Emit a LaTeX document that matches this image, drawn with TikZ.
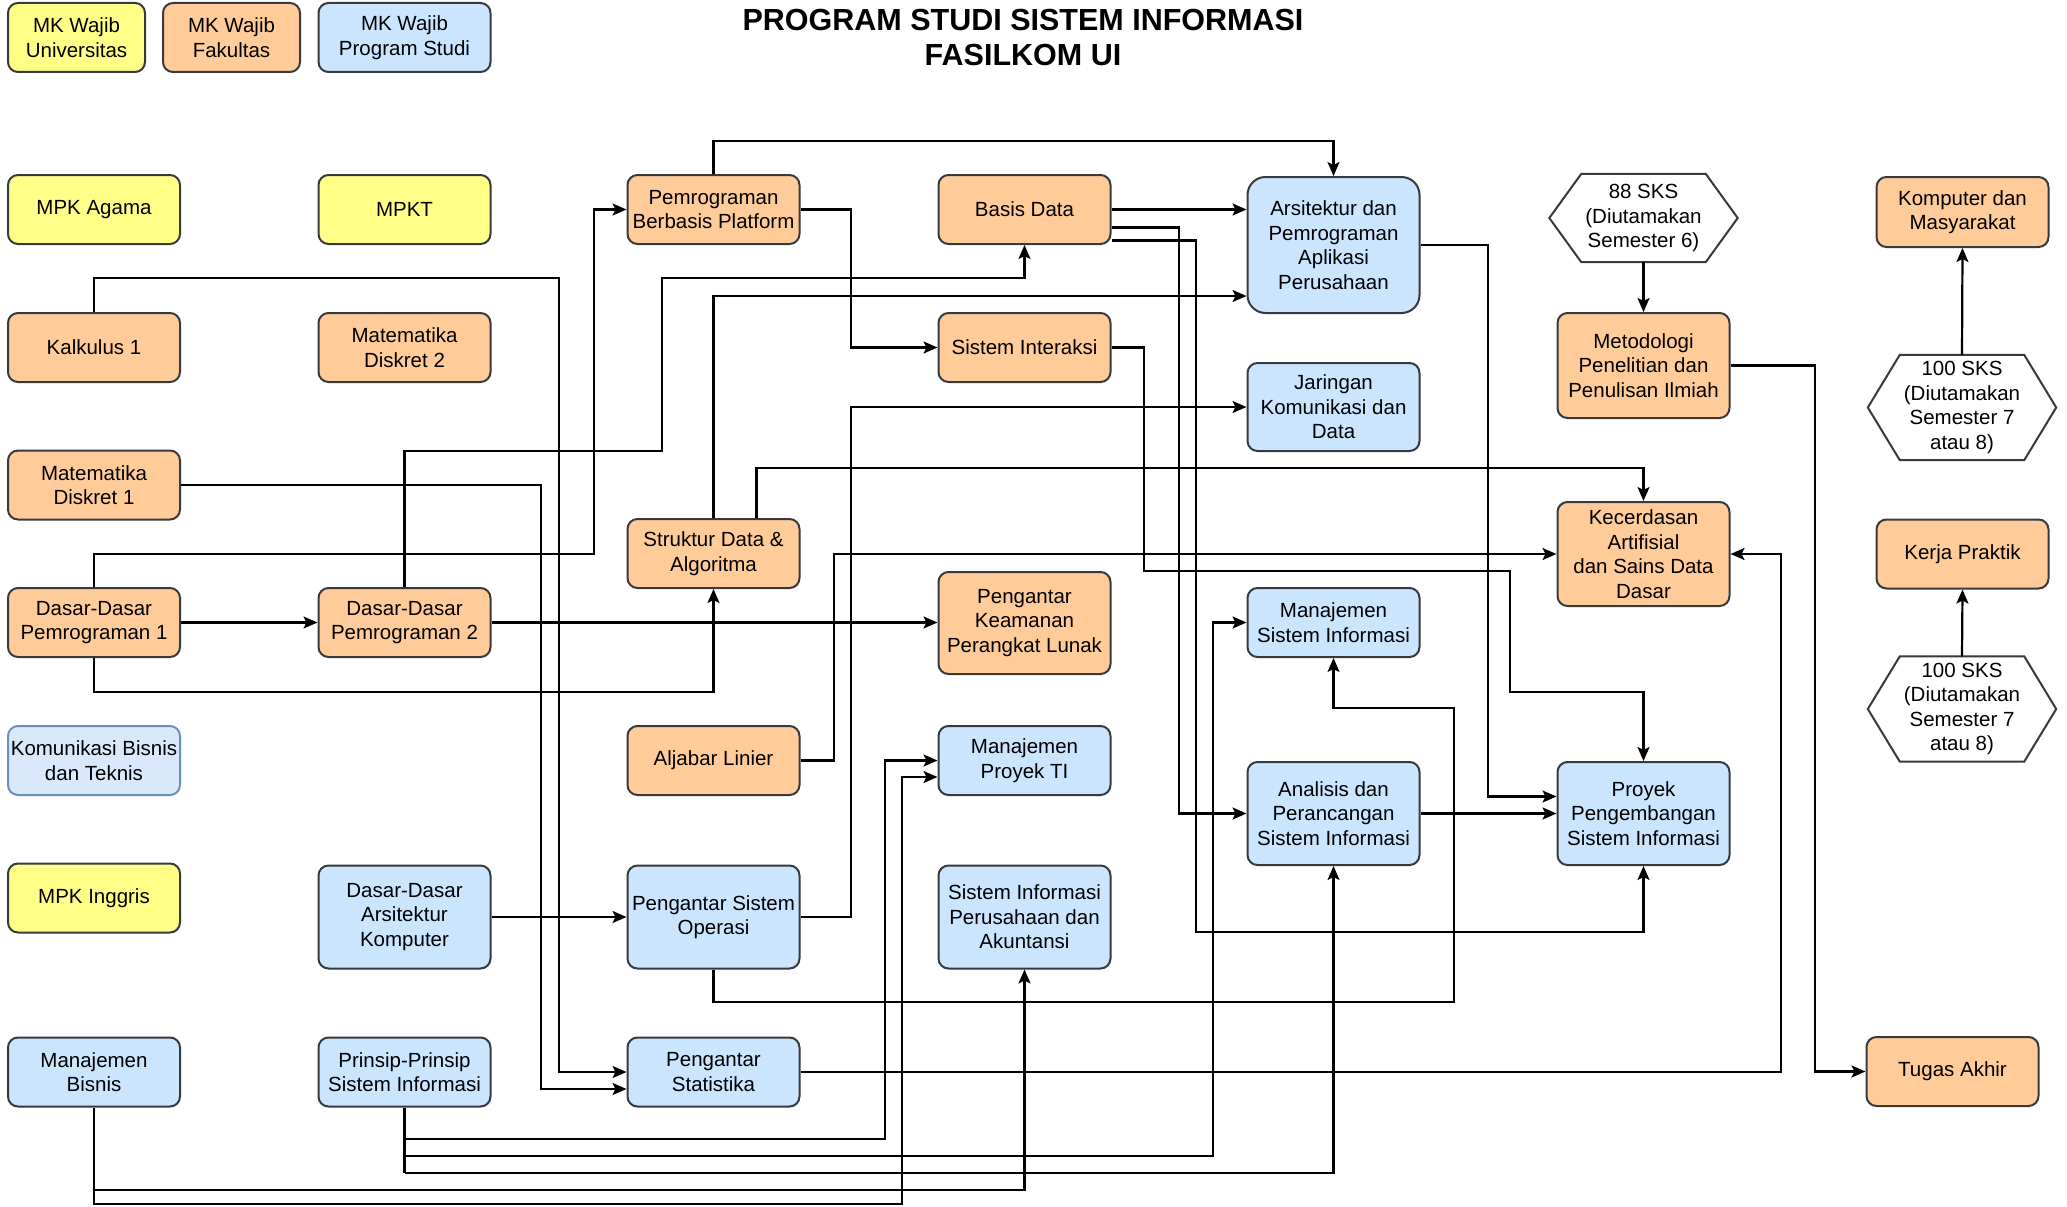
\documentclass[tikz,border=0pt]{standalone}
\usepackage{fontspec}
\setmainfont{Liberation Sans}
\usetikzlibrary{calc,arrows.meta}
\definecolor{cyel}{HTML}{FFFF88}
\definecolor{cora}{HTML}{FFCC99}
\definecolor{cblu}{HTML}{CCE5FF}
\definecolor{clblu}{HTML}{DAE8FC}
\definecolor{clbd}{HTML}{6C8EBF}
\definecolor{cbd}{HTML}{36393D}
\tikzset{
  box/.style={draw=cbd, line width=2pt, rounded corners=10pt, align=center,
    minimum width=172pt, minimum height=69pt, inner sep=1pt, text=black,
    font=\fontsize{20.5}{24.5}\selectfont},
  yel/.style={box, fill=cyel},
  ora/.style={box, fill=cora},
  blu/.style={box, fill=cblu},
  lblu/.style={box, fill=clblu, draw=clbd},
  hexn/.style={align=center, minimum width=188pt, inner sep=1pt,
    font=\fontsize{20.5}{24.5}\selectfont},
  arr/.style={line width=2.2pt, -{Stealth[length=14pt,width=12pt,inset=3pt]}},
  ln/.style={line width=2.2pt},
}
\newcommand{\hexdraw}[1]{\draw[cbd, line width=2pt, fill=white]
  ($(#1.north west)+(32,0)$) -- ($(#1.north east)+(-32,0)$) -- (#1.east) --
  ($(#1.south east)+(-32,0)$) -- ($(#1.south west)+(32,0)$) -- (#1.west) -- cycle;}
\begin{document}
\begin{tikzpicture}[x=1pt,y=-1pt]
\useasboundingbox (0,0) rectangle (2067,1207);
\fill[white] (0,0) rectangle (2067,1207);

% title
\node[font=\fontsize{30.5}{35}\selectfont\bfseries, align=center] (title) at (1023,38)
  {PROGRAM STUDI SISTEM INFORMASI\\FASILKOM UI};

% legend
\node[yel, minimum width=137pt] (lg1) at (76.5,37.5) {MK Wajib\\Universitas};
\node[ora, minimum width=137pt] (lg2) at (231.5,37.5) {MK Wajib\\Fakultas};
\node[blu] (lg3) at (404.5,37.5) {MK Wajib\\Program Studi};

% column 1
\node[yel] (agama) at (94,209.5) {MPK Agama};
\node[ora] (kal) at (94,347.5) {Kalkulus 1};
\node[ora] (md1) at (94,485) {Matematika\\Diskret 1};
\node[ora] (ddp1) at (94,622.5) {Dasar-Dasar\\Pemrograman 1};
\node[lblu] (kbt) at (94,760.5) {Komunikasi Bisnis\\dan Teknis};
\node[yel] (ing) at (94,898) {MPK Inggris};
\node[blu] (mb) at (94,1072) {Manajemen\\Bisnis};

% column 2
\node[yel] (mpkt) at (404.5,209.5) {MPKT};
\node[ora] (md2) at (404.5,347.5) {Matematika\\Diskret 2};
\node[ora] (ddp2) at (404.5,622.5) {Dasar-Dasar\\Pemrograman 2};
\node[blu, minimum height=103pt] (ddak) at (404.5,917) {Dasar-Dasar\\Arsitektur\\Komputer};
\node[blu] (prin) at (404.5,1072) {Prinsip-Prinsip\\Sistem Informasi};

% column 3
\node[ora] (pbp) at (713.5,209.5) {Pemrograman\\Berbasis Platform};
\node[ora] (sda) at (713.5,553.5) {Struktur Data \&\\Algoritma};
\node[ora] (alj) at (713.5,760.5) {Aljabar Linier};
\node[blu, minimum height=103pt] (pso) at (713.5,917) {Pengantar Sistem\\Operasi};
\node[blu] (stat) at (713.5,1072) {Pengantar\\Statistika};

% column 4
\node[ora] (bd) at (1024.5,209.5) {Basis Data};
\node[ora] (si) at (1024.5,347.5) {Sistem Interaksi};
\node[ora, minimum height=102pt] (pkpl) at (1024.5,623) {Pengantar\\Keamanan\\Perangkat Lunak};
\node[blu] (mpti) at (1024.5,760.5) {Manajemen\\Proyek TI};
\node[blu, minimum height=103pt] (sipa) at (1024.5,917) {Sistem Informasi\\Perusahaan dan\\Akuntansi};

% column 5
\node[blu, minimum height=136pt, rounded corners=18pt] (arsi) at (1333.5,245) {Arsitektur dan\\Pemrograman\\Aplikasi\\Perusahaan};
\node[blu, minimum height=88pt] (jar) at (1333.5,407) {Jaringan\\Komunikasi dan\\Data};
\node[blu] (msi) at (1333.5,622.5) {Manajemen\\Sistem Informasi};
\node[blu, minimum height=103pt] (ana) at (1333.5,813.5) {Analisis dan\\Perancangan\\Sistem Informasi};

% column 6
\node[hexn, minimum height=88pt] (h88) at (1643.5,218) {};
\hexdraw{h88}
\node[hexn] at (h88) {88 SKS\\(Diutamakan\\Semester 6)};
\node[ora, minimum height=105pt] (met) at (1643.5,365.5) {Metodologi\\Penelitian dan\\Penulisan Ilmiah};
\node[ora, minimum height=104pt] (kec) at (1643.5,554) {Kecerdasan\\Artifisial\\dan Sains Data\\Dasar};
\node[blu, minimum height=103pt] (proy) at (1643.5,813.5) {Proyek\\Pengembangan\\Sistem Informasi};

% column 7
\node[ora, minimum height=70pt] (kom) at (1962.5,212) {Komputer dan\\Masyarakat};
\node[hexn, minimum height=105pt] (ha) at (1962,407.5) {};
\hexdraw{ha}
\node[hexn] at (ha) {100 SKS\\(Diutamakan\\Semester 7\\atau 8)};
\node[ora] (kp) at (1962.5,554) {Kerja Praktik};
\node[hexn, minimum height=105pt] (hb) at (1962,709) {};
\hexdraw{hb}
\node[hexn] at (hb) {100 SKS\\(Diutamakan\\Semester 7\\atau 8)};
\node[ora] (ta) at (1952.5,1071.5) {Tugas Akhir};

% connectors
\draw[arr] (kal.north) -- (94,278) -- (559,278) -- (559,1072) -- (stat.west);
\draw[arr] (md1.east) -- (541,485) -- (541,1089) -- ($(stat.west)+(0,17)$);
\draw[arr] (ddp1.east) -- (ddp2.west);
\draw[arr] (ddp1.north) -- (94,554) -- (594,554) -- (594,209.5) -- (pbp.west);
\draw[arr] (ddp1.south) -- (94,692) -- (713.5,692) -- (sda.south);
\draw[arr] (ddp2.north) -- (404.5,451) -- (662,451) -- (662,278) -- (1024.5,278) -- (bd.south);
\draw[arr] (ddp2.east) -- (pkpl.west |- ddp2.east);
\draw[arr] (pbp.north) -- (713.5,141) -- (1333.5,141) -- (arsi.north);
\draw[arr] (pbp.east) -- (851,209.5) -- (851,347.5) -- (si.west);
\draw[arr] (bd.east) -- (arsi.west |- bd.east);
\draw[arr] ($(bd.east)+(0,18)$) -- (1179,227.5) -- (1179,813.5) -- (ana.west);
\draw[arr] ($(bd.east)+(0,31)$) -- (1196,240.5) -- (1196,932) -- (1643.5,932) -- (proy.south);
\draw[arr] (sda.north) -- (713.5,296) -- ($(arsi.west)+(0,51)$);
\draw[arr] ($(sda.north)+(43,0)$) -- (756.5,468) -- (1643.5,468) -- (kec.north);
\draw[arr] (si.east) -- (1144,347.5) -- (1144,571) -- (1510,571) -- (1510,692) -- (1643.5,692) -- (proy.north);
\draw[arr] (alj.east) -- (834,760.5) -- (834,554) -- (kec.west);
\draw[arr] (pso.east) -- (851,917) -- (851,407) -- (jar.west);
\draw[arr] (pso.south) -- (713.5,1002) -- (1454,1002) -- (1454,708) -- (1333.5,708) -- (msi.south);
\draw[arr] (ddak.east) -- (pso.west);
\draw[arr] (prin.south) -- (404.5,1139) -- (885,1139) -- (885,760.5) -- (mpti.west);
\draw[ln] (404.5,1139) -- (404.5,1173);
\draw[arr] (404.5,1156) -- (1213,1156) -- (1213,622.5) -- (msi.west);
\draw[arr] (404.5,1173) -- (1333.5,1173) -- (ana.south);
\draw[arr] (mb.south) -- (94,1190) -- (1024.5,1190) -- (sipa.south);
\draw[arr] (94,1190) -- (94,1204) -- (902,1204) -- (902,777) -- ($(mpti.west)+(0,16.5)$);
\draw[arr] (ana.east) -- (proy.west);
\draw[arr] (arsi.east) -- (1488,245) -- (1488,796.5) -- ($(proy.west)+(0,-17)$);
\draw[arr] (stat.east) -- (1781,1072) -- (1781,554) -- (kec.east);
\draw[arr] (met.east) -- (1815,365.5) -- (1815,1071.5) -- (ta.west);
\draw[arr] (h88.south) -- (met.north);
\draw[arr] (ha.north) -- (kom.south);
\draw[arr] (hb.north) -- (kp.south);
\end{tikzpicture}
\end{document}
